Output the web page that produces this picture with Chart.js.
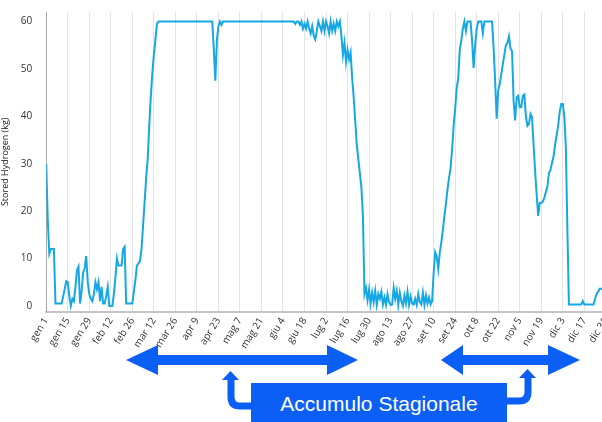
<!DOCTYPE html>
<html>
<head>
<meta charset="utf-8">
<script src="https://cdn.jsdelivr.net/npm/chart.js@4.4.1/dist/chart.umd.min.js"></script>
<style>
  body { margin: 0; width: 602px; height: 422px; overflow: hidden; background: #fff; position: relative; }
  #wrap { position: absolute; left: 0; top: 0; width: 620px; height: 355px; }
  #notes { position: absolute; left: 0; top: 0; }
  #label {
    position: absolute; left: 251px; top: 383px; width: 256px; height: 40px;
    background: #0b5ff4; color: #fff; font: 21px "Liberation Sans", Arial, sans-serif;
    text-align: center; line-height: 42px;
  }
</style>
</head>
<body>
<div id="wrap"><canvas id="chart_1"></canvas></div>
<svg id="notes" width="602" height="422">
  <g fill="#0b5ff4">
    <polygon points="126,360 158,345 158,355 327,355 327,345 358,360 327,375 327,365 158,365 158,375"/>
    <polygon points="441,360 463,345 463,355 548,355 548,345 580,360 548,375 548,365 463,365 463,375"/>
    <polygon points="222,380 239,380 230.5,371"/>
    <polygon points="519,378 536,378 527.5,369"/>
  </g>
  <g fill="none" stroke="#0b5ff4" stroke-width="7">
    <path d="M 254 406 L 240 406 Q 231 406 231 397 L 231 378"/>
    <path d="M 505 401 L 519 401 Q 528 401 528 392 L 528 376"/>
  </g>
</svg>
<div id="label">Accumulo Stagionale</div>
<script>
// one value per day, kg of hydrogen in storage
const storedKg = [
  30, 18, 11, 12, 12, 12, 0.5, 0.5, 0.5, 0.5,
  0.5, 2, 3.5, 5.2, 5, 2, 0, 1.5, 1, 4,
  7.5, 8.3, 0.5, 3, 7, 8, 10.5, 5, 2.5, 1.5,
  1, 2.5, 5, 3.5, 5, 1, 4, 0.5, 0.5, 2,
  4, 0, 0, 0, 2.5, 6, 10, 8.5, 8.5, 8.5,
  12, 12.5, 0.5, 0.5, 0.5, 0.5, 0.5, 3, 5.5, 8.5,
  9, 9.5, 12, 17, 22, 27, 31, 38, 44, 49,
  53, 56, 59.5, 60, 60, 60, 60, 60, 60, 60,
  60, 60, 60, 60, 60, 60, 60, 60, 60, 60,
  60, 60, 60, 60, 60, 60, 60, 60, 60, 60,
  60, 60, 60, 60, 60, 60, 60, 60, 60, 54,
  47.5, 56, 59, 60, 59.3, 60, 60, 60, 60, 60,
  60, 60, 60, 60, 60, 60, 60, 60, 60, 60,
  60, 60, 60, 60, 60, 60, 60, 60, 60, 60,
  60, 60, 60, 60, 60, 60, 60, 60, 60, 60,
  60, 60, 60, 60, 60, 60, 60, 60, 60, 60,
  60, 60, 59.5, 60, 60, 59.3, 60, 58.5, 59.5, 58.5,
  60, 58.5, 57.5, 59, 57, 56.2, 58, 60, 59, 58,
  60, 58, 60, 59, 57.5, 60, 58, 59.5, 58, 60,
  59, 60, 57, 53, 55.5, 51.5, 54, 52, 53.5, 48,
  44, 39, 34, 31, 28, 25, 19, 2.5, 3.8, 1.2,
  3.5, 0.5, 2.8, 0.8, 3.2, 0.2, 2.5, 1.5, 3, 0.3,
  1.8, 0.2, 2.5, 0.8, 0.2, 0.3, 3.8, 1.5, 3.2, 0.2,
  2.8, 1, 0, 2.2, 0.5, 3, 0.2, 2, 0.5, 0.3,
  1.5, 0.2, 2.5, 0.8, 0.3, 2.8, 0.2, 2.2, 0.5, 1.8,
  0.3, 1, 7, 11.3, 10.4, 7.8, 11.3, 13.4, 16, 19,
  21.5, 24.5, 27, 29, 33, 38, 41.5, 46, 48, 54,
  56, 58.5, 60, 58, 60, 60, 60, 56, 50.2, 55,
  58.5, 60, 60, 60, 57.5, 60, 60, 60, 60, 60,
  60, 54.4, 47.5, 39.5, 45.4, 46.8, 48.9, 51, 53, 55,
  55.5, 56.9, 54.3, 53.7, 43.3, 39.1, 44, 44.3, 41.9, 41.9,
  44.3, 44.6, 40, 38, 38.4, 40.5, 39.8, 34, 28.5, 23.5,
  19, 21.7, 21.7, 22, 22.8, 24, 25.2, 28, 28.7, 30.2,
  31.5, 34, 36, 38, 41, 42.6, 42.6, 40, 33.5, 16,
  0.3, 0.3, 0.3, 0.3, 0.3, 0.3, 0.3, 0.3, 0.3, 1,
  0.3, 0.3, 0.3, 0.3, 0.3, 0.3, 0.3, 1.5, 2.5, 3,
  3.6, 3.6, 3.6, 0.3, 0.3
];

// one label every 14 days
const dateLabels = ['gen 1', 'gen 15', 'gen 29', 'feb 12', 'feb 26', 'mar 12', 'mar 26',
  'apr 9', 'apr 23', 'mag 7', 'mag 21', 'giu 4', 'giu 18', 'lug 2', 'lug 16', 'lug 30',
  'ago 13', 'ago 27', 'set 10', 'set 24', 'ott 8', 'ott 22', 'nov 5', 'nov 19',
  'dic 3', 'dic 17', 'dic 31'];
const labelStep = 14;
const yTicks = [0, 10, 20, 30, 40, 50, 60];

const points = storedKg.map(function (v, i) { return { x: i, y: v }; });

new Chart(document.getElementById('chart_1'), {
    type: 'line',
    data: {
        datasets: [{
            label: 'Stored Hydrogen',
            data: points,
            borderColor: '#16a8e4',
            borderWidth: 2,
            pointRadius: 0,
            tension: 0
        }]
    },
    options: {
        responsive: true,
        maintainAspectRatio: false,
        animation: false,
        layout: { padding: { top: 2, right: 4, left: 0, bottom: 0 } },
        plugins: { legend: { display: false }, tooltip: { enabled: false } },
        scales: {
            x: {
                type: 'linear',
                min: 0,
                max: storedKg.length - 1,
                grid: { color: '#e3e3e3', lineWidth: 1, drawTicks: false },
                border: { display: true, color: '#c4c4c4', width: 2 },
                ticks: {
                    stepSize: labelStep,
                    autoSkip: false,
                    maxRotation: 58,
                    minRotation: 58,
                    padding: 4,
                    color: '#333',
                    font: { family: 'Open Sans', size: 10 },
                    callback: function (v) { return dateLabels[Math.round(v / labelStep)]; }
                }
            },
            y: {
                min: -1.2,
                max: 62,
                afterBuildTicks: function (axis) {
                    axis.ticks = yTicks.map(function (v) { return { value: v }; });
                },
                grid: { display: false },
                border: { display: true, color: '#a8a8a8', width: 1 },
                ticks: {
                    padding: 6,
                    color: '#333',
                    font: { family: 'Open Sans', size: 10 }
                },
                title: {
                    display: true,
                    text: 'Stored Hydrogen (kg)',
                    color: '#222',
                    font: { family: 'Open Sans', size: 9 },
                    padding: { top: 0, bottom: 4 }
                }
            }
        }
    }
});
</script>
</body>
</html>
